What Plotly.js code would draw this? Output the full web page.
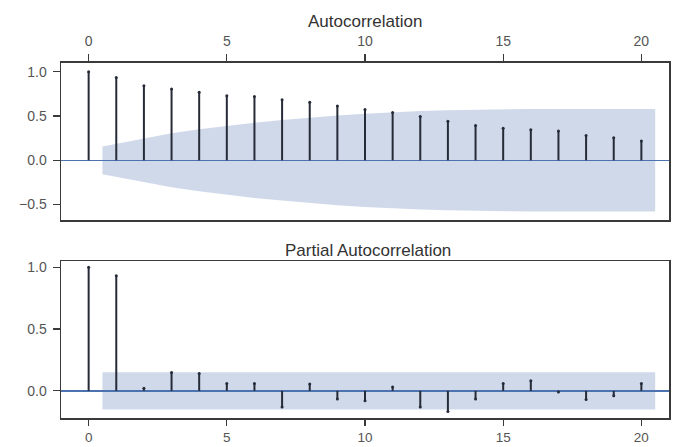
<!DOCTYPE html>
<html>
<head>
<meta charset="utf-8">
<script src="https://cdn.plot.ly/plotly-3.0.1.min.js"></script>
<style>html,body{margin:0;padding:0;background:#fff;}#chart{width:674px;height:447px;}</style>
</head>
<body>
<div id="chart"></div>
<script>
// ---- data ----
var lags = [0,1,2,3,4,5,6,7,8,9,10,11,12,13,14,15,16,17,18,19,20];
var acfValues = [1.0,0.936,0.843,0.806,0.768,0.73,0.72,0.685,0.655,0.615,0.573,0.54,0.494,0.44,0.393,0.363,0.345,0.33,0.28,0.255,0.217];
// half-width of ACF confidence band, lags 1..20
var acfBand = [0.157,0.25,0.305,0.35,0.39,0.425,0.455,0.483,0.507,0.527,0.543,0.556,0.566,0.573,0.577,0.58,0.58,0.58,0.58,0.58];
var pacfValues = [1.0,0.93,0.02,0.149,0.14,0.06,0.06,-0.13,0.055,-0.067,-0.08,0.03,-0.13,-0.167,-0.067,0.06,0.081,-0.01,-0.07,-0.04,0.06];
// half-width of PACF confidence band, lags 1..20
var pacfBand = [0.15,0.15,0.15,0.15,0.15,0.15,0.15,0.15,0.15,0.15,0.15,0.15,0.15,0.15,0.15,0.15,0.15,0.15,0.15,0.15];
var xTicks = [0,5,10,15,20];
var yTicksTop = [-0.5,0.0,0.5,1.0];
var yTicksBottom = [0.0,0.5,1.0];

var stemColor = '#262b38';
var blue = '#4c72b0';
var fillColor = 'rgba(76,114,176,0.27)';

function stems(vals, xa, ya) {
  var x = [], y = [];
  for (var i = 0; i < lags.length; i++) { x.push(lags[i], lags[i], null); y.push(0, vals[i], null); }
  return {x: x, y: y, xaxis: xa, yaxis: ya, mode: 'lines', type: 'scatter',
          line: {color: stemColor, width: 2}, hoverinfo: 'skip', showlegend: false};
}
function tops(vals, xa, ya) {
  return {x: lags, y: vals, xaxis: xa, yaxis: ya, mode: 'markers', type: 'scatter',
          marker: {color: stemColor, size: 3}, showlegend: false};
}
function band(half, xa, ya) {
  var bl = lags.slice(1).map(Number);
  bl[0] -= 0.5; bl[bl.length - 1] += 0.5;
  var up = {x: bl, y: half, xaxis: xa, yaxis: ya, mode: 'lines', type: 'scatter',
            line: {width: 0, color: fillColor}, hoverinfo: 'skip', showlegend: false};
  var lo = {x: bl, y: half.map(function (v) { return -v; }), xaxis: xa, yaxis: ya, mode: 'lines', type: 'scatter',
            fill: 'tonexty', fillcolor: fillColor, line: {width: 0, color: fillColor}, hoverinfo: 'skip', showlegend: false};
  return [up, lo];
}

var data = [].concat(
  band(acfBand, 'x', 'y'),
  [stems(acfValues, 'x', 'y'), tops(acfValues, 'x', 'y')],
  band(pacfBand, 'x2', 'y2'),
  [stems(pacfValues, 'x2', 'y2'), tops(pacfValues, 'x2', 'y2')]
);

var fam = 'Liberation Sans, Arial, sans-serif';
var font = {family: fam, size: 14, color: '#555555'};
var axisCommon = {showline: true, linecolor: '#3a3a3a', linewidth: 1.5, mirror: true,
                  ticks: 'outside', ticklen: 7, tickwidth: 1.3, tickcolor: '#3a3a3a',
                  ticklabelstandoff: 3,
                  showgrid: false, tickfont: font, fixedrange: true};

var layout = {
  width: 674, height: 447,
  margin: {l: 61, r: 5, t: 0, b: 0},
  paper_bgcolor: '#fff', plot_bgcolor: '#fff',
  showlegend: false,
  xaxis: Object.assign({}, axisCommon, {domain: [0, 1], range: [-1, 21], side: 'top', anchor: 'y',
          tickvals: xTicks, zeroline: false}),
  yaxis: Object.assign({}, axisCommon, {domain: [0.5078, 0.8591], range: [-0.675, 1.1], anchor: 'x',
          tickvals: yTicksTop, tickformat: '.1f', zeroline: true, zerolinecolor: blue, zerolinewidth: 1.5}),
  xaxis2: Object.assign({}, axisCommon, {domain: [0, 1], range: [-1, 21], side: 'bottom', anchor: 'y2',
          tickvals: xTicks, zeroline: false, ticklen: 6, ticklabelstandoff: 0,
          tickfont: {family: fam, size: 13.5, color: '#555555'}}),
  yaxis2: Object.assign({}, axisCommon, {domain: [0.0648, 0.4161], range: [-0.22, 1.05], anchor: 'x2',
          tickvals: yTicksBottom, tickformat: '.1f', zeroline: true, zerolinecolor: blue, zerolinewidth: 1.5}),
  annotations: [
    {text: 'Autocorrelation', xref: 'x', yref: 'paper', x: 10, y: 1 - 22 / 447, yanchor: 'middle',
     showarrow: false, font: {family: fam, size: 17, color: '#333333'}},
    {text: 'Partial Autocorrelation', xref: 'x2', yref: 'paper', x: 10.1, y: 1 - 250 / 447, yanchor: 'middle',
     showarrow: false, font: {family: fam, size: 17, color: '#333333'}}
  ]
};

Plotly.newPlot('chart', data, layout, {displayModeBar: false, staticPlot: true});
</script>
</body>
</html>
